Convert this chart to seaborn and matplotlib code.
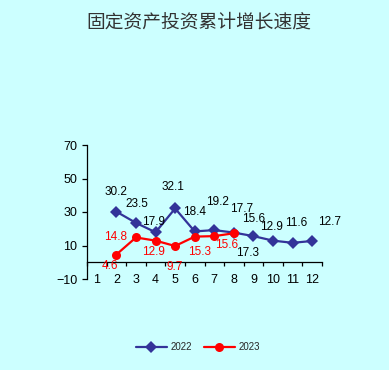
import matplotlib
matplotlib.use("Agg")
import matplotlib.pyplot as plt
import seaborn as sns
import pandas as pd
import numpy as np

# data (累计增长速度, %)
months = list(range(1, 13))
months_2022 = [2, 3, 4, 5, 6, 7, 8, 9, 10, 11, 12]
growth_2022 = [30.2, 23.5, 17.9, 32.1, 18.4, 19.2, 17.7, 15.6, 12.9, 11.6, 12.7]
months_2023 = [2, 3, 4, 5, 6, 7, 8]
growth_2023 = [4.6, 14.8, 12.9, 9.7, 15.3, 15.6, 17.3]
y_ticks = [-10, 10, 30, 50, 70]
title = "固定资产投资累计增长速度"

# label offsets in pixels (style only)
off_2022 = [(0, 20), (1, 19), (-2, 10), (-2, 21), (0, 19), (3, 28), (8, 24),
            (0, 17), (-2, 14), (4, 20), (17, 19)]
off_2023 = [(-6, -11), (-20, 0), (-2, -11), (0, -21), (5, -15), (12, -9), (14, -20)]
col_2023 = ["red"] * 6 + ["black"]

bg = "#CCFFFF"
blue = "#333399"
red = "#FF0000"

df = pd.concat([
    pd.DataFrame({"month": months_2022, "value": growth_2022, "year": "2022"}),
    pd.DataFrame({"month": months_2023, "value": growth_2023, "year": "2023"}),
])

sns.set_theme(style="white")
plt.rcParams["font.family"] = ["Liberation Sans", "Noto Sans CJK SC"]

fig = plt.figure(figsize=(3.89, 3.70), dpi=100, facecolor=bg)
ax = fig.add_axes([87 / 389, 1 - 279 / 370, 235 / 389, 134 / 370], facecolor=bg)

sns.lineplot(data=df, x="month", y="value", hue="year", style="year",
             palette={"2022": blue, "2023": red},
             markers={"2022": "D", "2023": "o"}, dashes=False,
             markersize=6.5, linewidth=1.6, markeredgewidth=0, ax=ax)

for m, v, o in zip(months_2022, growth_2022, off_2022):
    ax.annotate(f"{v:.1f}", (m, v), xytext=o, textcoords="offset pixels",
                ha="center", va="center", fontsize=8.5, color="black")
for m, v, o, c in zip(months_2023, growth_2023, off_2023, col_2023):
    ax.annotate(f"{v:.1f}", (m, v), xytext=o, textcoords="offset pixels",
                ha="center", va="center", fontsize=8.5, color=c)

ax.set_xlim(0.5, 12.5)
ax.set_ylim(-10, 70)
ax.set_yticks(y_ticks)
ax.set_xticks(months)
ax.set_xticks(np.arange(0.5, 13, 1), minor=True)
ax.set_xlabel("")
ax.set_ylabel("")

for s in ["top", "right"]:
    ax.spines[s].set_visible(False)
ax.spines["bottom"].set_position(("data", 0))
for s in ["left", "bottom"]:
    ax.spines[s].set_color("black")
    ax.spines[s].set_linewidth(0.9)

ax.tick_params(axis="x", which="major", length=0, pad=8.5, labelsize=9,
               colors="black", bottom=True)
ax.tick_params(axis="x", which="minor", length=3.2, width=0.9,
               color="black", bottom=True)
ax.tick_params(axis="y", length=3.6, width=0.9, pad=3.5, labelsize=9,
               colors="black", left=True, direction="out")

fig.text(199 / 389, 1 - 22 / 370, title, ha="center", va="center",
         fontsize=13.5, color="#333333",
         family=["Noto Sans CJK SC", "DejaVu Sans"])

leg = ax.legend(loc="center", ncol=2, frameon=False,
                fontsize=7, handlelength=3.2, columnspacing=1.2,
                handletextpad=0.4)
leg.set_bbox_to_anchor((198 / 389, 1 - 347 / 370), transform=fig.transFigure)

fig.savefig("out.png", dpi=100, facecolor=bg)
